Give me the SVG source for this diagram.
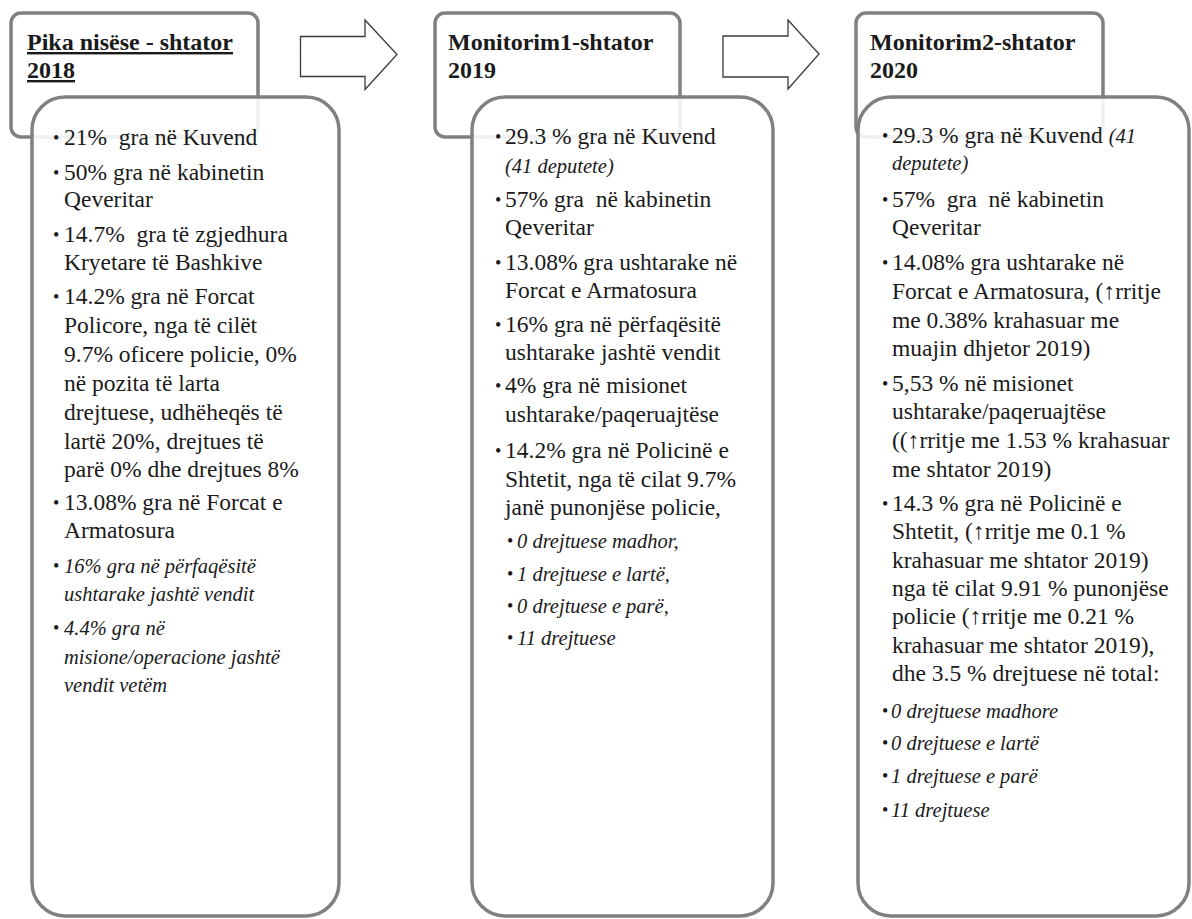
<svg xmlns="http://www.w3.org/2000/svg" width="1192" height="919" viewBox="0 0 1192 919">
<style>
.hdr{fill:#fff;stroke:#808080;stroke-width:3.5}
.body{fill:#fff;fill-opacity:0.88;stroke:#808080;stroke-width:3.5}
.arrow{fill:#fff;stroke:#3a3a3a;stroke-width:1.3}
text{font-family:"Liberation Serif","Times New Roman",serif;fill:#1a1a1a;white-space:pre}
.h{font-size:24px;font-weight:bold}
.t{font-size:23.5px}
.i{font-size:20.5px;font-style:italic}
.bu{font-size:18px}
</style>
<rect width="1192" height="919" fill="#fff"/>
<g id="connectors">
<path class="arrow" d="M300.5,36.5 H365 V20 L397,54.5 L365,89.5 V76.5 H300.5 Z"/>
<path class="arrow" d="M723,36 H788 V20 L819,54 L788,89 V77 H723 Z"/>
</g>
<g id="node1">
<rect class="hdr" x="11" y="13" width="247" height="124" rx="10"/>
<text class="h" x="27" y="50" text-decoration="underline">Pika nisëse - shtator</text>
<text class="h" x="27" y="78" text-decoration="underline">2018</text>
<rect class="body" x="32" y="97" width="307" height="819" rx="33"/>
<text class="bu" x="53" y="144">•</text><text class="t" x="64" y="145" xml:space="preserve">21%  gra në Kuvend</text>
<text class="bu" x="53" y="179">•</text><text class="t" x="64" y="180">50% gra në kabinetin</text>
<text class="t" x="64" y="207">Qeveritar</text>
<text class="bu" x="53" y="241">•</text><text class="t" x="64" y="242" xml:space="preserve">14.7%  gra të zgjedhura</text>
<text class="t" x="64" y="270">Kryetare të Bashkive</text>
<text class="bu" x="53" y="303">•</text><text class="t" x="64" y="304">14.2% gra në Forcat</text>
<text class="t" x="64" y="333">Policore, nga të cilët</text>
<text class="t" x="64" y="362">9.7% oficere policie, 0%</text>
<text class="t" x="64" y="391">në pozita të larta</text>
<text class="t" x="64" y="420">drejtuese, udhëheqës të</text>
<text class="t" x="64" y="449">lartë 20%, drejtues të</text>
<text class="t" x="64" y="477">parë 0% dhe drejtues 8%</text>
<text class="bu" x="53" y="509">•</text><text class="t" x="64" y="510">13.08% gra në Forcat e</text>
<text class="t" x="64" y="538">Armatosura</text>
<text class="bu" x="53" y="572">•</text><text class="i" x="64" y="573">16% gra në përfaqësitë</text>
<text class="i" x="64" y="601">ushtarake jashtë vendit</text>
<text class="bu" x="53" y="634">•</text><text class="i" x="64" y="635">4.4% gra në</text>
<text class="i" x="64" y="664">misione/operacione jashtë</text>
<text class="i" x="64" y="692">vendit vetëm</text>
</g>
<g id="node2">
<rect class="hdr" x="435" y="13" width="245" height="124" rx="10"/>
<text class="h" x="448" y="50">Monitorim1-shtator</text>
<text class="h" x="448" y="78">2019</text>
<rect class="body" x="472" y="97" width="301" height="819" rx="33"/>
<text class="bu" x="495" y="143">•</text><text class="t" x="505" y="144">29.3 % gra në Kuvend</text>
<text class="i" x="505" y="173">(41 deputete)</text>
<text class="bu" x="495" y="206">•</text><text class="t" x="505" y="207" xml:space="preserve">57% gra  në kabinetin</text>
<text class="t" x="505" y="235">Qeveritar</text>
<text class="bu" x="495" y="269">•</text><text class="t" x="505" y="270">13.08% gra ushtarake në</text>
<text class="t" x="505" y="298">Forcat e Armatosura</text>
<text class="bu" x="495" y="331">•</text><text class="t" x="505" y="332">16% gra në përfaqësitë</text>
<text class="t" x="505" y="360">ushtarake jashtë vendit</text>
<text class="bu" x="495" y="392">•</text><text class="t" x="505" y="393">4% gra në misionet</text>
<text class="t" x="505" y="422">ushtarake/paqeruajtëse</text>
<text class="bu" x="495" y="457">•</text><text class="t" x="505" y="458">14.2% gra në Policinë e</text>
<text class="t" x="505" y="487">Shtetit, nga të cilat 9.7%</text>
<text class="t" x="505" y="515">janë punonjëse policie,</text>
<text class="bu" x="507" y="547">•</text><text class="i" x="517" y="548">0 drejtuese madhor,</text>
<text class="bu" x="507" y="580">•</text><text class="i" x="517" y="581">1 drejtuese e lartë,</text>
<text class="bu" x="507" y="612">•</text><text class="i" x="517" y="613">0 drejtuese e parë,</text>
<text class="bu" x="507" y="644">•</text><text class="i" x="517" y="645">11 drejtuese</text>
</g>
<g id="node3">
<rect class="hdr" x="856" y="13" width="247" height="124" rx="10"/>
<text class="h" x="870" y="50">Monitorim2-shtator</text>
<text class="h" x="870" y="78">2020</text>
<rect class="body" x="858" y="97" width="331" height="819" rx="33"/>
<text class="bu" x="882" y="142">•</text><text class="t" x="892" y="143">29.3 % gra në Kuvend <tspan class="i">(41</tspan></text>
<text class="i" x="892" y="170">deputete)</text>
<text class="bu" x="882" y="206">•</text><text class="t" x="892" y="207" xml:space="preserve">57%  gra  në kabinetin</text>
<text class="t" x="892" y="235">Qeveritar</text>
<text class="bu" x="882" y="269">•</text><text class="t" x="892" y="270">14.08% gra ushtarake në</text>
<text class="t" x="892" y="299">Forcat e Armatosura, (↑rritje</text>
<text class="t" x="892" y="328">me 0.38% krahasuar me</text>
<text class="t" x="892" y="356">muajin dhjetor 2019)</text>
<text class="bu" x="882" y="390">•</text><text class="t" x="892" y="391">5,53 % në misionet</text>
<text class="t" x="892" y="419">ushtarake/paqeruajtëse</text>
<text class="t" x="892" y="448">((↑rritje me 1.53 % krahasuar</text>
<text class="t" x="892" y="477">me shtator 2019)</text>
<text class="bu" x="882" y="510">•</text><text class="t" x="892" y="511">14.3 % gra në Policinë e</text>
<text class="t" x="892" y="539">Shtetit, (↑rritje me 0.1 %</text>
<text class="t" x="892" y="568">krahasuar me shtator 2019)</text>
<text class="t" x="892" y="596">nga të cilat 9.91 % punonjëse</text>
<text class="t" x="892" y="624">policie (↑rritje me 0.21 %</text>
<text class="t" x="892" y="653">krahasuar me shtator 2019),</text>
<text class="t" x="892" y="681">dhe 3.5 % drejtuese në total:</text>
<text class="bu" x="882" y="717">•</text><text class="i" x="891" y="718">0 drejtuese madhore</text>
<text class="bu" x="882" y="749">•</text><text class="i" x="891" y="750">0 drejtuese e lartë</text>
<text class="bu" x="882" y="782">•</text><text class="i" x="891" y="783">1 drejtuese e parë</text>
<text class="bu" x="882" y="816">•</text><text class="i" x="891" y="817">11 drejtuese</text>
</g>
</svg>
